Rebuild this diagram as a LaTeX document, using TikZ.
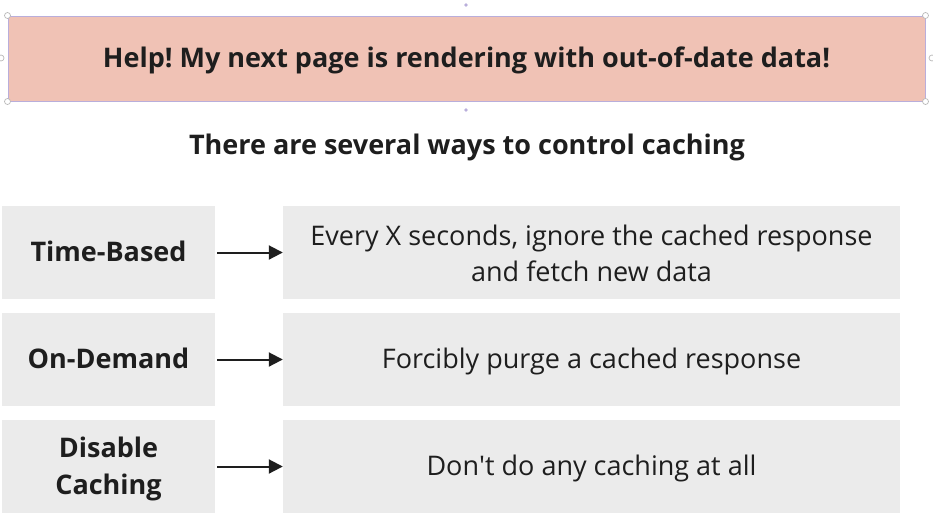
\documentclass[tikz,border=0pt]{standalone}
\usepackage{fontspec}
\setmainfont{Open Sans}
\usepackage{xcolor}
\usetikzlibrary{arrows.meta}
\frenchspacing

\definecolor{bannerfill}{HTML}{F0C2B5}
\definecolor{bannerline}{HTML}{B9AEDB}
\definecolor{boxgray}{HTML}{EBEBEB}
\definecolor{inkdark}{HTML}{1E1E1E}

\tikzset{
  kindbox/.style={fill=boxgray, minimum width=213pt, minimum height=93pt, inner sep=0pt,
    align=center, text=inkdark, font=\bfseries\fontsize{27}{37}\selectfont},
  descbox/.style={fill=boxgray, minimum width=617pt, minimum height=93pt, inner sep=0pt,
    align=center, text=inkdark, font=\fontsize{27}{36}\selectfont},
  oneline/.style={text height=21pt, text depth=3pt},
  leadsto/.style={draw=inkdark, line width=2pt, -{Triangle[length=14pt,width=14pt]}},
  grip/.style={draw=gray!55, fill=white, line width=0.7pt}
}

\begin{document}
\begin{tikzpicture}[x=1pt,y=-1pt]
	\useasboundingbox (0,0) rectangle (933,515);
	%% banner
	\node[fill=bannerfill, draw=bannerline, line width=1pt, minimum width=917pt, minimum height=85pt,
	      inner sep=0pt, text=inkdark, text height=21pt, text depth=4pt,
	      font=\bfseries\fontsize{27}{32}\selectfont] (banner) at (466.5,58.5)
	      {Help! My next page is rendering with out-of-date data!};
	%% selection handles
	\draw[grip] (banner.north west) circle (3pt);
	\draw[grip] (banner.north east) circle (3pt);
	\draw[grip] (banner.south west) circle (3pt);
	\draw[grip] (banner.south east) circle (3pt);
	\draw[grip] (1,58) circle (3pt);
	\draw[grip] (932,58) circle (3pt);
	\fill[bannerline] (466,5) circle (1.8pt);
	\fill[bannerline] (466,110) circle (1.8pt);
	%% subtitle
	\node[text=inkdark, font=\bfseries\fontsize{27}{32}\selectfont] (subtitle) at (467,147)
	      {There are several ways to control caching};
	%% ways
	\node[kindbox, oneline] (timed) at (108.5,252.5) {Time-Based};
	\node[kindbox, oneline] (demand) at (108.5,359.5) {On-Demand};
	\node[kindbox] (nocache) at (108.5,466.5) {\rule{0pt}{26pt}Disable\\Caching};
	%% descriptions
	\node[descbox] (timeddesc) at (591.5,252.5) {\rule{0pt}{22pt}Every X seconds, ignore the cached response\\and fetch new data};
	\node[descbox, oneline] (demanddesc) at (591.5,359.5) {Forcibly purge a cached response};
	\node[descbox, oneline] (nocachedesc) at (591.5,466.5) {Don\textquotesingle t do any caching at all};
	%%% arrows
	\draw[leadsto, shorten <=2pt] (timed) -- (timeddesc);
	\draw[leadsto, shorten <=2pt] (demand) -- (demanddesc);
	\draw[leadsto, shorten <=2pt] (nocache) -- (nocachedesc);
\end{tikzpicture}
\end{document}
